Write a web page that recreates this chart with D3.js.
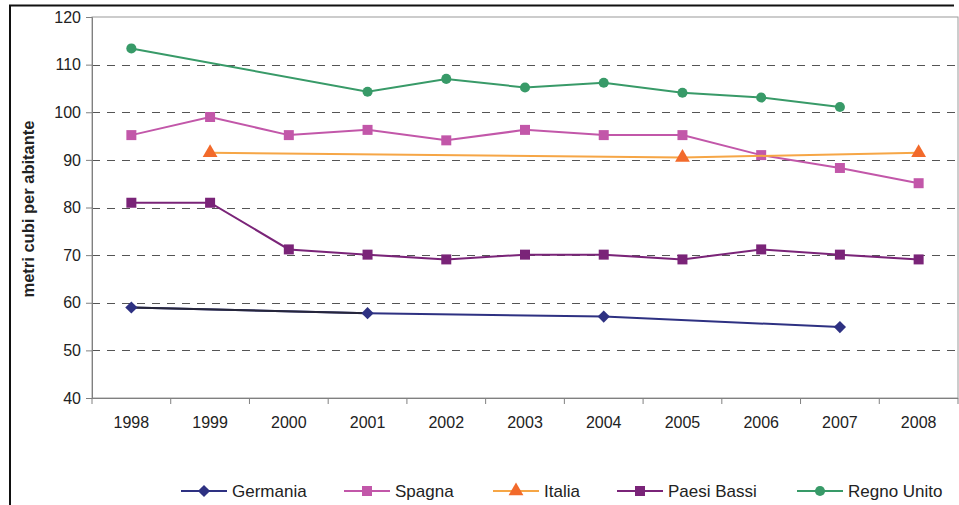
<!DOCTYPE html>
<html>
<head>
<meta charset="utf-8">
<script src="https://cdn.jsdelivr.net/npm/d3@7/dist/d3.min.js"></script>
<style>
  html, body { margin: 0; padding: 0; background: #fff; }
  svg { display: block; font-family: "Liberation Sans", Arial, sans-serif; }
</style>
</head>
<body>
<svg id="chart" width="959" height="505"></svg>
<script>
// Consumo d'acqua per abitante (metri cubi), 1998-2008
const years = ["1998","1999","2000","2001","2002","2003","2004","2005","2006","2007","2008"];
const yTicks = [40, 50, 60, 70, 80, 90, 100, 110, 120];

const germania   = [59, null, null, 57.8, null, null, 57.1, null, null, 54.9, null];
const spagna     = [95.2, 99, 95.2, 96.3, 94.1, 96.3, 95.2, 95.2, 91, 88.3, 85.1];
const italia     = [null, 91.5, null, null, null, null, null, 90.5, null, null, 91.5];
const paesiBassi = [81, 81, 71.2, 70.1, 69.1, 70.1, 70.1, 69.1, 71.2, 70.1, 69.1];
const regnoUnito = [113.4, null, null, 104.3, 107, 105.2, 106.2, 104.1, 103.1, 101.1, null];

const seriesNames = ["Germania", "Spagna", "Italia", "Paesi Bassi", "Regno Unito"];

const series = [
  { name: seriesNames[0], values: germania,   line: "#2e3182", fill: "#2e3182", symbol: d3.symbolDiamond2, size: 95,  first: "#26263a" },
  { name: seriesNames[1], values: spagna,     line: "#c257a9", fill: "#c257a9", symbol: d3.symbolSquare,   size: 100 },
  { name: seriesNames[2], values: italia,     line: "#f6a646", fill: "#f26a2b", symbol: d3.symbolTriangle, size: 95 },
  { name: seriesNames[3], values: paesiBassi, line: "#7a2478", fill: "#7a2478", symbol: d3.symbolSquare,   size: 100 },
  { name: seriesNames[4], values: regnoUnito, line: "#389a68", fill: "#389a68", symbol: d3.symbolCircle,   size: 80 }
];

const svg = d3.select("#chart");
const plot = { left: 92, right: 958, top: 17, bottom: 398 };

const x = d3.scaleBand().domain(years).range([plot.left, plot.right]);
const y = d3.scaleLinear().domain([40, 120]).range([plot.bottom, plot.top]);
const cx = yr => x(yr) + x.bandwidth() / 2;

// outer frame (top and left edges)
svg.append("path")
  .attr("d", `M10,505 L10,5.5 L954,5.5`)
  .attr("fill", "none").attr("stroke", "#111").attr("stroke-width", 2);

// plot area border
svg.append("rect")
  .attr("x", plot.left).attr("y", plot.top)
  .attr("width", plot.right - plot.left).attr("height", plot.bottom - plot.top)
  .attr("fill", "none").attr("stroke", "#9a9a9a").attr("stroke-width", 1);

// dashed gridlines
svg.append("g")
  .selectAll("line")
  .data(yTicks.filter(t => t > 40 && t < 120))
  .join("line")
  .attr("x1", plot.left).attr("x2", plot.right)
  .attr("y1", d => Math.round(y(d)) + 0.5).attr("y2", d => Math.round(y(d)) + 0.5)
  .attr("stroke", "#555").attr("stroke-width", 1.2)
  .attr("stroke-dasharray", "8,7");

// y axis
const yAxis = svg.append("g")
  .attr("transform", `translate(${plot.left},0)`)
  .call(d3.axisLeft(y).tickValues(yTicks).tickSize(6).tickPadding(5));
yAxis.select(".domain").attr("stroke", "#808080");
yAxis.selectAll(".tick line").attr("stroke", "#808080");
yAxis.selectAll(".tick text")
  .attr("font-size", 16).attr("fill", "#222")
  .attr("font-family", "Liberation Sans, Arial, sans-serif");

// x axis with ticks on band boundaries
const xAxisG = svg.append("g").attr("transform", `translate(0,${plot.bottom})`);
xAxisG.append("line")
  .attr("x1", plot.left).attr("x2", plot.right)
  .attr("y1", 0.5).attr("y2", 0.5)
  .attr("stroke", "#808080");
xAxisG.selectAll("line.bt")
  .data(years.concat(["end"]))
  .join("line")
  .attr("class", "bt")
  .attr("x1", (d, i) => i < years.length ? x(d) : plot.right)
  .attr("x2", (d, i) => i < years.length ? x(d) : plot.right)
  .attr("y1", 0).attr("y2", 6)
  .attr("stroke", "#808080");
xAxisG.selectAll("text")
  .data(years)
  .join("text")
  .attr("x", d => cx(d))
  .attr("y", 30)
  .attr("text-anchor", "middle")
  .attr("font-size", 16).attr("fill", "#222")
  .text(d => d);

// y axis title
svg.append("text")
  .attr("transform", `translate(34,209) rotate(-90)`)
  .attr("text-anchor", "middle")
  .attr("font-size", 16.5).attr("font-weight", "bold").attr("fill", "#222")
  .text("metri cubi per abitante");

// series lines and markers
const lineGen = d3.line().x(d => cx(d.year)).y(d => y(d.value));

series.forEach(s => {
  const pts = years.map((yr, i) => ({ year: yr, value: s.values[i] })).filter(d => d.value != null);
  const g = svg.append("g");
  g.append("path")
    .datum(pts)
    .attr("d", lineGen)
    .attr("fill", "none")
    .attr("stroke", s.line)
    .attr("stroke-width", 2);
  // the opening segment of the Germania line is drawn in a darker tone
  if (s.first) {
    g.append("path")
      .datum(pts.slice(0, 2))
      .attr("d", lineGen)
      .attr("fill", "none")
      .attr("stroke", s.first)
      .attr("stroke-width", 2);
  }
  g.selectAll("path.m")
    .data(pts)
    .join("path")
    .attr("class", "m")
    .attr("d", d3.symbol().type(s.symbol).size(s.size))
    .attr("transform", d => `translate(${cx(d.year)},${y(d.value)})`)
    .attr("fill", s.fill);
});

// legend
const legendX = [181, 344, 493, 617, 797];
const legend = svg.append("g").attr("transform", "translate(0,491)");
series.forEach((s, i) => {
  const g = legend.append("g").attr("transform", `translate(${legendX[i]},0)`);
  g.append("line").attr("x1", 0).attr("x2", 46).attr("y1", 0).attr("y2", 0)
    .attr("stroke", s.line).attr("stroke-width", 2);
  g.append("path")
    .attr("d", d3.symbol().type(s.symbol).size(s.size))
    .attr("transform", "translate(23,0)")
    .attr("fill", s.fill);
  g.append("text")
    .attr("x", 51).attr("y", 6)
    .attr("font-size", 17).attr("fill", "#222")
    .text(s.name);
});
</script>
</body>
</html>
